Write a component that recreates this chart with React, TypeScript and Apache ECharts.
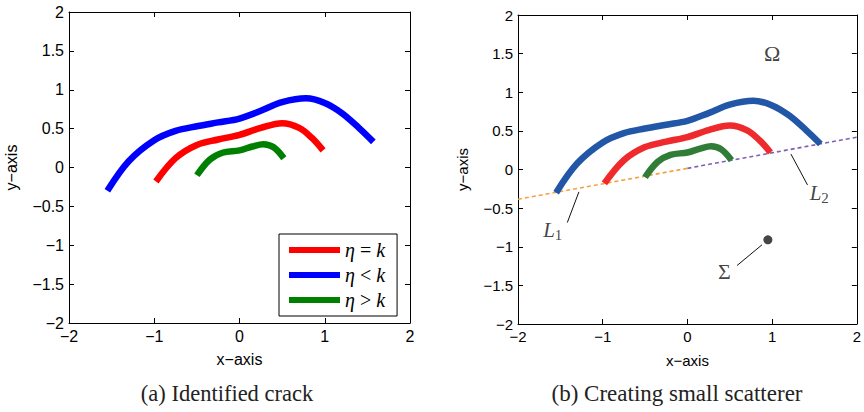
import React, { useEffect, useRef } from "react";
import * as echarts from "echarts";

// Crack curves (shared by both panels)
const blueX = [-1.55, -1.3, -1.0, -0.75, -0.5, -0.25, 0, 0.25, 0.5, 0.78, 1.0, 1.2, 1.4, 1.57];
const blueY = [-0.3, 0.08, 0.35, 0.47, 0.53, 0.58, 0.63, 0.73, 0.84, 0.89, 0.83, 0.7, 0.51, 0.33];
const redX = [-0.98, -0.75, -0.5, -0.25, 0, 0.25, 0.5, 0.7, 0.85, 0.98];
const redY = [-0.18, 0.12, 0.29, 0.36, 0.42, 0.51, 0.57, 0.51, 0.38, 0.22];
const greenX = [-0.5, -0.35, -0.2, 0, 0.15, 0.28, 0.4, 0.52];
const greenY = [-0.1, 0.1, 0.19, 0.22, 0.27, 0.3, 0.26, 0.12];

// Dashed lines L1, L2 (right panel)
const l1X = [-2, 0];
const l1Y = [-0.385, 0.015];
const l2X = [0, 2];
const l2Y = [0.015, 0.418];

// Scatterer point
const sigmaPt = [0.95, -0.91];

// Annotation labels (right panel)
const annoX = [1.0, -1.59, 1.556, 0.436];
const annoY = [1.5, -0.78, -0.307, -1.32];
const annoText = ["{up|Ω}", "{it|L}{sub|1}", "{it|L}{sub|2}", "{up|Σ}"];

// Arrows [fromX, fromY, toX, toY]
const arrows = [
  [-1.418, -0.687, -1.281, -0.29],
  [1.418, -0.2, 1.222, 0.2],
  [0.586, -1.243, 0.88, -0.975],
];

const legendNames = ["η = k", "η < k", "η > k"];
const xTicks = { min: -2, max: 2, interval: 1 };
const yTicks = { min: -2, max: 2, interval: 0.5 };

const zip = (xs: number[], ys: number[]) => xs.map((x, i) => [x, ys[i]]);
const fmt = (v: number) => String(v).replace("-", "\u2212");

const SANS = "Liberation Sans";
const SERIF = "Liberation Serif";

function makeAxes(kind: "x" | "y", gridIndex: number, name: string, nameGap: number, fs: number) {
  const range = kind === "x" ? xTicks : yTicks;
  const common = {
    type: "value",
    gridIndex,
    ...range,
    splitLine: { show: false },
    axisLine: { show: true, onZero: false, lineStyle: { color: "#000", width: 1 } },
    axisTick: { show: true, inside: true, length: 5, lineStyle: { color: "#000" } },
  };
  return [
    {
      ...common,
      position: kind === "x" ? "bottom" : "left",
      name,
      nameLocation: "middle",
      nameGap,
      nameTextStyle: { fontFamily: SANS, fontSize: fs, color: "#000" },
      axisLabel: { formatter: fmt, fontFamily: SANS, fontSize: fs, color: "#000", margin: 5 },
    },
    {
      ...common,
      position: kind === "x" ? "top" : "right",
      axisLabel: { show: false },
    },
  ];
}

export default function App() {
  const ref = useRef<HTMLDivElement>(null);
  useEffect(() => {
    if (!ref.current) return;
    const chart = echarts.init(ref.current, undefined, { renderer: "svg" });
    const lineSeries = (name: string, xs: number[], ys: number[], color: string, xi: number) => ({
      type: "line",
      name,
      xAxisIndex: xi,
      yAxisIndex: xi,
      data: zip(xs, ys),
      smooth: 0.35,
      symbol: "none",
      lineStyle: { color, width: 6.5, cap: "butt" },
      itemStyle: { color },
      silent: true,
    });
    const dashed = (xs: number[], ys: number[], color: string) => ({
      type: "line",
      xAxisIndex: 2,
      yAxisIndex: 2,
      data: zip(xs, ys),
      symbol: "none",
      lineStyle: { color, width: 1.6, type: [4, 3] },
      silent: true,
    });
    const option: any = {
      animation: false,
      textStyle: { fontFamily: SANS, fontSize: 16, color: "#000" },
      grid: [
        { left: 69, top: 12, width: 341, height: 311 },
        { left: 518, top: 15, width: 340, height: 309 },
      ],
      xAxis: [...makeAxes("x", 0, "x\u2212axis", 28, 16), ...makeAxes("x", 1, "x\u2212axis", 29, 15)],
      yAxis: [...makeAxes("y", 0, "y\u2212axis", 50, 16), ...makeAxes("y", 1, "y\u2212axis", 48, 15)],
      legend: {
        data: legendNames,
        orient: "vertical",
        left: 279,
        top: 234,
        icon: "rect",
        itemWidth: 51,
        itemHeight: 6,
        itemGap: 5,
        padding: [6, 12, 6, 10],
        borderColor: "#000",
        borderWidth: 1,
        backgroundColor: "#fff",
        selectedMode: false,
        formatter: (n: string) => {
          const [a, op, b] = n.split(" ");
          return `{i|${a}} {n|${op}} {i|${b}}`;
        },
        textStyle: {
          fontFamily: SERIF,
          fontSize: 20,
          color: "#000",
          lineHeight: 19,
          rich: {
            i: { fontFamily: SERIF, fontStyle: "italic", fontSize: 20, color: "#000" },
            n: { fontFamily: SERIF, fontSize: 20, color: "#000" },
          },
        },
      },
      series: [
        lineSeries(legendNames[0], redX, redY, "#ff0000", 0),
        lineSeries(legendNames[1], blueX, blueY, "#0000ff", 0),
        lineSeries(legendNames[2], greenX, greenY, "#008000", 0),
        dashed(l1X, l1Y, "#f5a142"),
        dashed(l2X, l2Y, "#7f5fb5"),
        lineSeries("b-red", redX, redY, "#ee2a2c", 2),
        lineSeries("b-blue", blueX, blueY, "#2256a6", 2),
        lineSeries("b-green", greenX, greenY, "#2f7d36", 2),
        {
          type: "scatter",
          xAxisIndex: 2,
          yAxisIndex: 2,
          data: [sigmaPt],
          symbolSize: 9,
          itemStyle: { color: "#161616" },
          silent: true,
        },
        {
          type: "scatter",
          xAxisIndex: 2,
          yAxisIndex: 2,
          silent: true,
          symbolSize: 1,
          itemStyle: { color: "rgba(0,0,0,0)" },
          data: annoX.map((x, i) => ({ value: [x, annoY[i]], txt: annoText[i] })),
          label: {
            show: true,
            position: "inside",
            formatter: (p: any) => p.data.txt,
            rich: {
              up: { fontFamily: SERIF, fontSize: 22, color: "#111" },
              it: { fontFamily: SERIF, fontStyle: "italic", fontSize: 21, color: "#111" },
              sub: { fontFamily: SERIF, fontSize: 15, color: "#111", padding: [10, 0, 0, 0] },
            },
          },
          markLine: {
            silent: true,
            symbol: ["none", "arrow"],
            symbolSize: [0, 7],
            label: { show: false },
            lineStyle: { color: "#111", width: 1, type: "solid" },
            data: arrows.map((a) => [{ coord: [a[0], a[1]] }, { coord: [a[2], a[3]] }]),
          },
        },
      ],
      graphic: [
        {
          type: "text",
          x: 227,
          y: 393,
          style: {
            text: "(a) Identified crack",
            fontFamily: SERIF,
            fontSize: 22.5,
            fill: "#222",
            textAlign: "center",
            textVerticalAlign: "middle",
          },
        },
        {
          type: "text",
          x: 677,
          y: 393,
          style: {
            text: "(b) Creating small scatterer",
            fontFamily: SERIF,
            fontSize: 23,
            fill: "#222",
            textAlign: "center",
            textVerticalAlign: "middle",
          },
        },
      ],
    };
    chart.setOption(option);
    return () => chart.dispose();
  }, []);
  return (
    <div
      ref={ref}
      style={{ position: "fixed", left: 0, top: 0, width: 864, height: 412, background: "#fff" }}
    />
  );
}
